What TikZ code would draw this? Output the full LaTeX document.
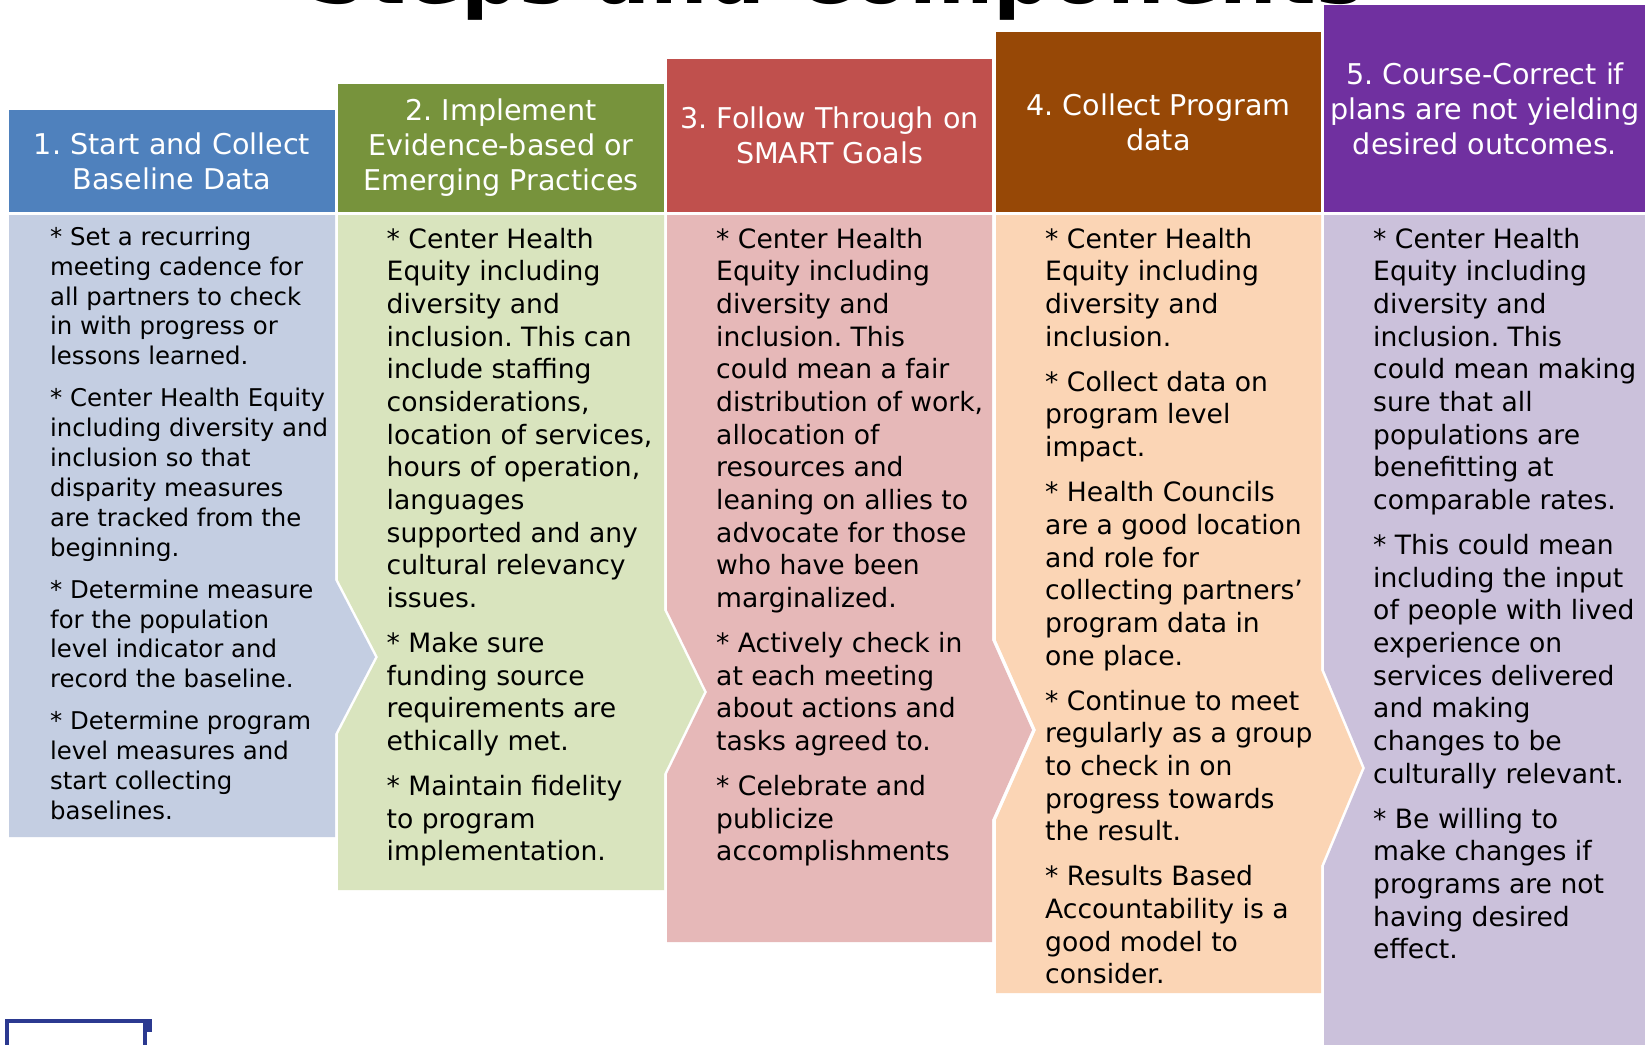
\documentclass[tikz,border=0pt]{standalone}
\usepackage{fontspec}
\setmainfont{DejaVu Sans}
\frenchspacing
\definecolor{hA}{HTML}{4F81BD}
\definecolor{hB}{HTML}{77933C}
\definecolor{hC}{HTML}{C0504D}
\definecolor{hD}{HTML}{974806}
\definecolor{hE}{HTML}{7030A0}
\definecolor{bA}{HTML}{C4CEE2}
\definecolor{bB}{HTML}{D9E4BE}
\definecolor{bC}{HTML}{E6B8B8}
\definecolor{bD}{HTML}{FBD5B5}
\definecolor{bE}{HTML}{CBC1DB}
\definecolor{navy}{HTML}{2B3990}
\tikzset{
  hdr/.style={text=white, align=center, inner sep=0pt, font=\fontsize{28.6}{35}\selectfont},
  txtA/.style={anchor=north west, align=left, inner sep=0pt, text=black, font=\fontsize{24.4}{29.9}\selectfont},
  txtB/.style={anchor=north west, align=left, inner sep=0pt, text=black, font=\fontsize{26.6}{32.65}\selectfont},
}
\begin{document}
\frenchspacing
\begin{tikzpicture}[x=1pt,y=-1pt]
\useasboundingbox (0,0) rectangle (1645,1044);
\clip (0,0) rectangle (1645,1044);
\fill[white] (0,0) rectangle (1645,1044);

% title (cut off at top, as in the reference)
\node[anchor=base west, inner sep=0pt, font=\fontsize{81}{90}\selectfont\bfseries] (title) at (309,3) {Steps and Components};

% headers
\fill[hA] (9,110) rectangle (335,212);
\fill[hB] (338,84) rectangle (664,212);
\fill[hC] (667,59) rectangle (992,212);
\fill[hD] (996,31.5) rectangle (1321,212);
\fill[hE] (1324,5) rectangle (1650,212);

% bodies (chevrons)
\fill[bA] (9,215) -- (335,215) -- (335,580) -- (375,657) -- (335,734) -- (335,837) -- (9,837) -- cycle;
\fill[bB] (338,215) -- (664,215) -- (664,610) -- (704,692) -- (664,774) -- (664,890) -- (338,890) -- (338,734) -- (378,657) -- (338,580) -- cycle;
\fill[bC] (667,215) -- (992,215) -- (992,640) -- (1032,730) -- (992,820) -- (992,942) -- (667,942) -- (667,774) -- (707,692) -- (667,610) -- cycle;
\fill[bD] (996,215) -- (1321,215) -- (1321,670) -- (1362,768) -- (1321,866) -- (1321,993) -- (996,993) -- (996,820) -- (1036,730) -- (996,640) -- cycle;
\fill[bE] (1324,215) -- (1650,215) -- (1650,1050) -- (1324,1050) -- (1324,866) -- (1365,768) -- (1324,670) -- cycle;

% header texts
\node[hdr] (h1) at (172,161) {1. Start and Collect\\Baseline Data};
\node[hdr] (h2) at (501,148) {2. Implement\\Evidence-based or\\Emerging Practices};
\node[hdr] (h3) at (829.5,135.5) {3. Follow Through on\\SMART Goals};
\node[hdr] (h4) at (1158.5,122) {4. Collect Program\\data};
\node[hdr] (h5) at (1485,108.5) {5. Course-Correct if\\plans are not yielding\\desired outcomes.};

% body texts
\node[txtA] (t1) at (50,221) {\rule{0pt}{24pt}* Set a recurring\\meeting cadence for\\all partners to check\\in with progress or\\lessons learned.\\[12pt]* Center Health Equity\\including diversity and\\inclusion so that\\disparity measures\\are tracked from the\\beginning.\\[12pt]* Determine measure\\for the population\\level indicator and\\record the baseline.\\[12pt]* Determine program\\level measures and\\start collecting\\baselines.};

\node[txtB] (t2) at (386.5,222) {\rule{0pt}{26pt}* Center Health\\Equity including\\diversity and\\inclusion. This can\\include staffing\\considerations,\\location of services,\\hours of operation,\\languages\\supported and any\\cultural relevancy\\issues.\\[12.5pt]* Make sure\\funding source\\requirements are\\ethically met.\\[12.5pt]* Maintain fidelity\\to program\\implementation.};

\node[txtB] (t3) at (716,222) {\rule{0pt}{26pt}* Center Health\\Equity including\\diversity and\\inclusion. This\\could mean a fair\\distribution of work,\\allocation of\\resources and\\leaning on allies to\\advocate for those\\who have been\\marginalized.\\[12.5pt]* Actively check in\\at each meeting\\about actions and\\tasks agreed to.\\[12.5pt]* Celebrate and\\publicize\\accomplishments};

\node[txtB] (t4) at (1045,222) {\rule{0pt}{26pt}* Center Health\\Equity including\\diversity and\\inclusion.\\[12.5pt]* Collect data on\\program level\\impact.\\[12.5pt]* Health Councils\\are a good location\\and role for\\collecting partners’\\program data in\\one place.\\[12.5pt]* Continue to meet\\regularly as a group\\to check in on\\progress towards\\the result.\\[12.5pt]* Results Based\\Accountability is a\\good model to\\consider.};

\node[txtB] (t5) at (1373,222) {\rule{0pt}{26pt}* Center Health\\Equity including\\diversity and\\inclusion. This\\could mean making\\sure that all\\populations are\\benefitting at\\comparable rates.\\[12.5pt]* This could mean\\including the input\\of people with lived\\experience on\\services delivered\\and making\\changes to be\\culturally relevant.\\[12.5pt]* Be willing to\\make changes if\\programs are not\\having desired\\effect.};

% bottom-left outline fragment
\draw[navy, line width=4pt] (7,1050) -- (7,1021) -- (149.5,1021);
\fill[navy] (143,1019) rectangle (152,1032);
\draw[navy, line width=3.5pt] (145,1030) -- (145,1050);
\end{tikzpicture}
\end{document}
